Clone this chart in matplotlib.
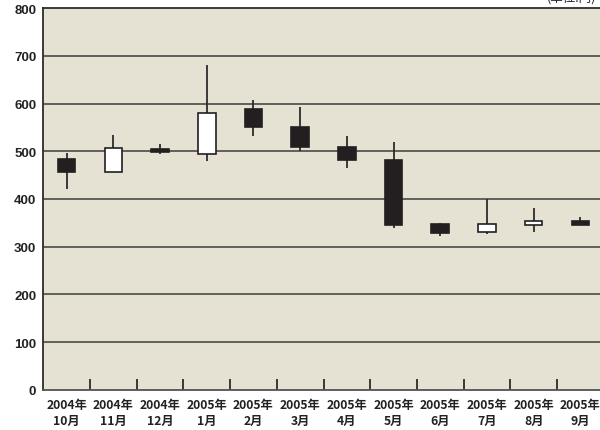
import numpy as np
import matplotlib
matplotlib.use("Agg")
import matplotlib.pyplot as plt

plt.rcParams['font.family'] = ['Liberation Sans', 'DejaVu Sans']

# monthly price candles (yen)
months = ["2004年\n10月", "2004年\n11月", "2004年\n12月", "2005年\n1月",
          "2005年\n2月", "2005年\n3月", "2005年\n4月", "2005年\n5月",
          "2005年\n6月", "2005年\n7月", "2005年\n8月", "2005年\n9月"]
opens  = [484, 456, 505, 494, 589, 551, 509, 482, 347, 330, 346, 353]
closes = [456, 506, 498, 580, 551, 510, 482, 346, 328, 347, 354, 346]
highs  = [497, 534, 516, 681, 608, 593, 533, 520, 349, 400, 381, 362]
lows   = [421, 456, 495, 480, 533, 501, 465, 340, 322, 327, 331, 346]

bg = "#e5e2d3"
ink = "#231f20"

fig = plt.figure(figsize=(6.0, 4.31), dpi=100)
ax = fig.add_axes([43.3/600, 40.3/431, 560.4/600, 381.4/431])
ax.set_facecolor(bg)

x = np.arange(len(months))
o = np.array(opens)
c = np.array(closes)
up = c >= o

# wicks
ax.vlines(x, lows, highs, color="#2e2b2b", lw=1.3, zorder=3)

# bodies: white for rising months, black for falling
body_bottom = np.minimum(o, c)
body_height = np.abs(c - o)
ax.bar(x[up], body_height[up], bottom=body_bottom[up], width=0.375,
       color="white", edgecolor=ink, linewidth=1.2, zorder=4)
ax.bar(x[~up], body_height[~up], bottom=body_bottom[~up], width=0.375,
       color=ink, edgecolor=ink, linewidth=1.2, zorder=4)

ax.set_xlim(-0.5, len(months) - 0.5)
ax.set_ylim(0, 800)
ax.set_yticks(range(0, 801, 100))
for v in range(100, 800, 100):
    ax.axhline(v, color="#3f3d3a", lw=1.1, zorder=1)

ax.tick_params(axis="y", length=0, pad=5, labelsize=9.5)
for lab in ax.get_yticklabels():
    lab.set_fontweight("bold")
    lab.set_color("#222222")

ax.set_xticks(x)
ax.set_xticklabels(months, family=["Noto Sans CJK JP", "DejaVu Sans"],
                   fontsize=8.8, fontweight="bold", color="#222222",
                   linespacing=1.3)
ax.tick_params(axis="x", which="major", length=0, pad=6)
ax.set_xticks(np.arange(0.5, len(months) - 0.5, 1), minor=True)
ax.tick_params(axis="x", which="minor", direction="in", length=8,
               width=1.3, color="#2e2b2b")

for side in ["top", "left"]:
    ax.spines[side].set_color("#2e2b2b")
    ax.spines[side].set_linewidth(1.3)
ax.spines["bottom"].set_color("#555350")
ax.spines["bottom"].set_linewidth(1.3)
ax.spines["right"].set_visible(False)

# unit note, sitting at the very top edge
fig.text(547/600, 1 - 1.5/431, "(単位:円)", family=["Noto Sans CJK JP", "DejaVu Sans"],
         fontsize=9, color="#222222", va="baseline", ha="left")

fig.savefig("out.png", dpi=100, facecolor="white")
